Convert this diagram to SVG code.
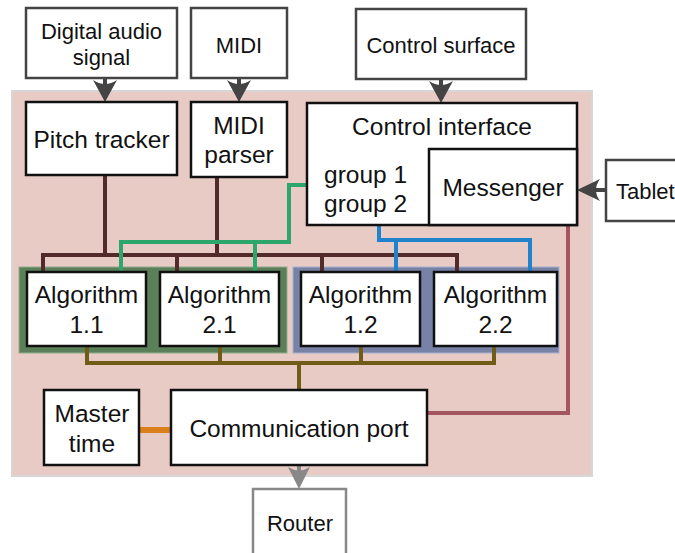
<svg xmlns="http://www.w3.org/2000/svg" width="675" height="553" viewBox="0 0 675 553">
<style>
text{font-family:"Liberation Sans",Arial,sans-serif;fill:#111;text-anchor:middle}
.in{font-size:24.5px}
.ex{font-size:22px}
.box{fill:#fff;stroke:#111;stroke-width:2.5}
.ext{fill:#fff;stroke:#444;stroke-width:2.5}
.rt{fill:#fff;stroke:#888;stroke-width:2.5}
.ln{fill:none;stroke-width:4;stroke-linejoin:miter;stroke-linecap:butt}
</style>
<rect x="12" y="91" width="580" height="385" fill="#e9cbc6" stroke="#d6d6d6" stroke-width="2"/>
<rect id="group-green" x="19" y="267" width="268" height="86" fill="#5b7f58" stroke="#8fae8c" stroke-width="1"/>
<rect id="group-blue" x="293" y="267" width="266" height="86" fill="#7882a6" stroke="#a6b2cf" stroke-width="1"/>
<g id="connectors">
<path class="ln" stroke="#522a2a" d="M105,175V255M217,177V255M43,272V255H457V272M177,255V272M322,255V272"/>
<path class="ln" stroke="#2ca66a" d="M307,185H289V242H121V272M255,242V272"/>
<path class="ln" stroke="#1f82cc" d="M379,225V240H530V272M396,240V272"/>
<path class="ln" stroke="#705c17" d="M87,346V363H494V346M220,346V363M361,346V363M299,363V390"/>
<path class="ln" stroke="#a35560" d="M427,413H568V225"/>
<path class="ln" stroke="#d97f1c" style="stroke-width:6" d="M139,430H171"/>
<g fill="#444" stroke="none">
<rect x="103" y="78" width="4" height="10"/>
<path d="M105,102L93,80Q105,88 117,80Z"/>
<rect x="237" y="78" width="4" height="10"/>
<path d="M239,102L227,80Q239,88 251,80Z"/>
<rect x="439" y="79" width="4" height="10"/>
<path d="M441,103L429,81Q441,89 453,81Z"/>
<rect x="592" y="188" width="14" height="4"/>
<path d="M577,190L600,179Q592,190 600,201Z"/>
</g>
<g fill="#888" stroke="none">
<rect x="297" y="465" width="4" height="8"/>
<path d="M299,489L288,467Q299,474 310,467Z"/>
</g>
</g>
<g id="digital-audio"><rect class="ext" x="26" y="8" width="151" height="70"/><text class="ex" x="101.5" y="39">Digital audio</text><text class="ex" x="101.5" y="65">signal</text></g>
<g id="midi"><rect class="ext" x="191" y="8" width="96" height="70"/><text class="ex" x="239" y="53">MIDI</text></g>
<g id="control-surface"><rect class="ext" x="356" y="9" width="170" height="70"/><text class="ex" x="441" y="53">Control surface</text></g>
<g id="tablet"><rect class="ext" x="606" y="160" width="80" height="61"/><text class="ex" x="616" y="199" style="text-anchor:start">Tablet</text></g>
<g id="pitch-tracker"><rect class="box" x="26" y="102" width="151" height="73"/><text class="in" x="101.5" y="148">Pitch tracker</text></g>
<g id="midi-parser"><rect class="box" x="191" y="102" width="96" height="75"/><text class="in" x="239" y="134">MIDI</text><text class="in" x="239" y="163">parser</text></g>
<g id="control-interface"><rect class="box" x="307" y="103" width="270" height="122"/><text class="in" x="442" y="135">Control interface</text><text class="in" x="324" y="183" style="text-anchor:start">group 1</text><text class="in" x="324" y="212" style="text-anchor:start">group 2</text></g>
<g id="messenger"><rect class="box" x="429" y="149" width="148" height="76"/><text class="in" x="503" y="196">Messenger</text></g>
<g id="alg-1-1"><rect class="box" x="27" y="272" width="119" height="74"/><text class="in" x="86.5" y="303">Algorithm</text><text class="in" x="86.5" y="333">1.1</text></g>
<g id="alg-2-1"><rect class="box" x="160" y="272" width="119" height="74"/><text class="in" x="219.5" y="303">Algorithm</text><text class="in" x="219.5" y="333">2.1</text></g>
<g id="alg-1-2"><rect class="box" x="301" y="272" width="119" height="74"/><text class="in" x="360.5" y="303">Algorithm</text><text class="in" x="360.5" y="333">1.2</text></g>
<g id="alg-2-2"><rect class="box" x="434" y="272" width="123" height="74"/><text class="in" x="495.5" y="303">Algorithm</text><text class="in" x="495.5" y="333">2.2</text></g>
<g id="master-time"><rect class="box" x="44" y="390" width="95" height="75"/><text class="in" x="92" y="422">Master</text><text class="in" x="92" y="452">time</text></g>
<g id="communication-port"><rect class="box" x="171" y="390" width="256" height="75"/><text class="in" x="299" y="437">Communication port</text></g>
<g id="router"><rect class="rt" x="253" y="489" width="93" height="80"/><text class="ex" x="300" y="531">Router</text></g>
</svg>
